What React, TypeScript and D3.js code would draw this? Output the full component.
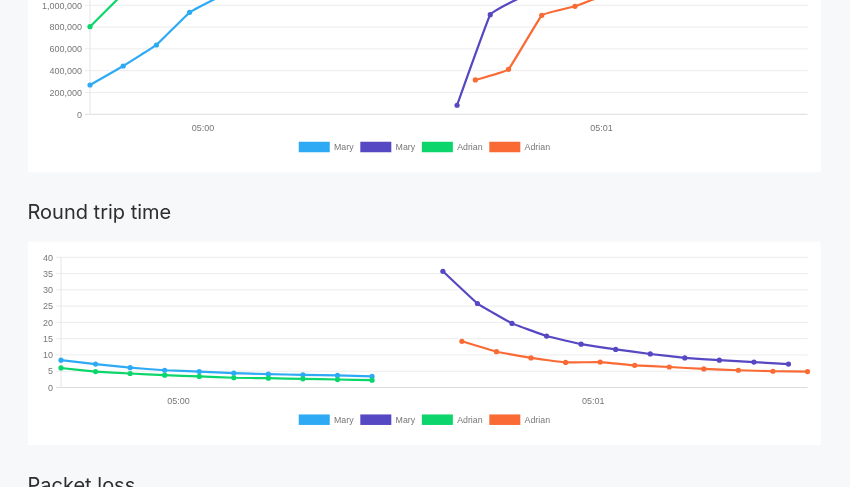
import React, { useEffect, useRef } from 'react';
import * as d3 from 'd3';

const W = 850;
const H = 487;

const parseTime = d3.timeParse('%H:%M:%S.%L');
const parseTick = d3.timeParse('%H:%M');

// sample times (shared by both charts)
const maryTimesA = ['04:59:43.000', '04:59:48.000', '04:59:53.000', '04:59:58.000', '05:00:03.000', '05:00:08.000', '05:00:13.000', '05:00:18.000', '05:00:23.000', '05:00:28.000'];
const adrianTimesA = ['04:59:43.000', '04:59:48.000', '04:59:53.000', '04:59:58.000', '05:00:03.000', '05:00:08.000', '05:00:13.000', '05:00:18.000', '05:00:23.000', '05:00:28.000'];
const maryTimesB = ['05:00:38.250', '05:00:43.250', '05:00:48.250', '05:00:53.250', '05:00:58.250', '05:01:03.250', '05:01:08.250', '05:01:13.250', '05:01:18.250', '05:01:23.250', '05:01:28.250'];
const adrianTimesB = ['05:00:41.000', '05:00:46.000', '05:00:51.000', '05:00:56.000', '05:01:01.000', '05:01:06.000', '05:01:11.000', '05:01:16.000', '05:01:21.000', '05:01:26.000', '05:01:31.000'];

const seriesNames = ['Mary', 'Mary', 'Adrian', 'Adrian'];
const seriesColors = ['#2eaaf5', '#5548c2', '#0cd66b', '#fa6a35'];

// top chart (only the lower part is in view)
const throughputMaryA = [269000, 443000, 636000, 936000, 1095000];
const throughputMaryB = [83000, 914000, 1084000];
const throughputAdrianA = [804000, 1108000];
const throughputAdrianB = [315000, 413000, 908000, 991000, 1106000];
const throughputTicks = [0, 200000, 400000, 600000, 800000, 1000000, 1200000, 1400000];

// round trip time
const rttMaryA = [8.4, 7.2, 6.1, 5.3, 4.9, 4.4, 4.1, 3.9, 3.7, 3.4];
const rttMaryB = [35.7, 25.8, 19.7, 15.8, 13.3, 11.7, 10.3, 9.1, 8.4, 7.8, 7.2];
const rttAdrianA = [6.0, 4.9, 4.3, 3.8, 3.4, 3.0, 2.85, 2.65, 2.45, 2.25];
const rttAdrianB = [14.2, 11.0, 9.1, 7.7, 7.8, 6.8, 6.3, 5.7, 5.3, 5.0, 4.9];
const rttTicks = [0, 5, 10, 15, 20, 25, 30, 35, 40];

const xTickLabels = ['05:00', '05:01'];
const headings = ['Round trip time', 'Packet loss'];

const FONT = '"Liberation Sans", Arial, sans-serif';

type Series = { times: string[]; values: number[]; color: string; name: string };

interface ChartOpts {
  left: number;
  right: number;
  y0: number;
  yTop: number;
  yTicks: number[];
  yFormat: (v: number) => string;
  xLabelY: number;
  legendY: number;
  series: Series[];
}

const allTimes = [...maryTimesA, ...adrianTimesA, ...maryTimesB, ...adrianTimesB].map(t => parseTime(t) as Date);
const timeDomain = d3.extent(allTimes) as [Date, Date];

function drawChart(root: d3.Selection<SVGGElement, unknown, null, undefined>, o: ChartOpts) {
  const x = d3.scaleTime().domain(timeDomain).range([o.left, o.right]);
  const y = d3.scaleLinear().domain([0, o.yTicks[o.yTicks.length - 1]]).range([o.y0, o.yTop]);

  // grid
  const grid = root.append('g');
  o.yTicks.forEach(t => {
    grid.append('line')
      .attr('x1', o.left - 5).attr('x2', o.right)
      .attr('y1', y(t)).attr('y2', y(t))
      .attr('stroke', t === 0 ? '#dcdcdc' : '#ececec')
      .attr('stroke-width', 1);
    grid.append('text')
      .attr('x', o.left - 8).attr('y', y(t) + 3.2)
      .attr('text-anchor', 'end')
      .attr('fill', '#777')
      .style('font-family', FONT).style('font-size', '9px')
      .text(o.yFormat(t));
  });
  grid.append('line')
    .attr('x1', o.left).attr('x2', o.left)
    .attr('y1', o.yTop).attr('y2', o.y0)
    .attr('stroke', '#e6e6e6');

  // x ticks
  xTickLabels.forEach(lbl => {
    const t = parseTick(lbl) as Date;
    const d = new Date(timeDomain[0]);
    d.setHours(t.getHours(), t.getMinutes(), 0, 0);
    root.append('text')
      .attr('x', x(d)).attr('y', o.xLabelY)
      .attr('text-anchor', 'middle')
      .attr('fill', '#777')
      .style('font-family', FONT).style('font-size', '9px')
      .text(lbl);
  });

  // lines, slight rounding at the joins
  const line = d3.line<[Date, number]>()
    .x(d => x(d[0]))
    .y(d => y(d[1]))
    .curve(d3.curveCardinal.tension(0.8));

  o.series.forEach(s => {
    const pts: [Date, number][] = s.values.map((v, i) => [parseTime(s.times[i]) as Date, v]);
    root.append('path')
      .datum(pts)
      .attr('d', line)
      .attr('fill', 'none')
      .attr('stroke', s.color)
      .attr('stroke-width', 2.2)
      .attr('stroke-linejoin', 'round');
    root.append('g').selectAll('circle')
      .data(pts)
      .join('circle')
      .attr('cx', d => x(d[0]))
      .attr('cy', d => y(d[1]))
      .attr('r', 2.6)
      .attr('fill', s.color);
  });

  // legend, centred on the card
  const legend = root.append('g');
  const boxW = 31, boxH = 10.5, gap = 4.3, pad = 6.7;
  let cx = 0;
  o.series.forEach(s => {
    legend.append('rect')
      .attr('x', cx).attr('y', o.legendY - boxH / 2)
      .attr('width', boxW).attr('height', boxH)
      .attr('fill', s.color);
    const txt = legend.append('text')
      .attr('x', cx + boxW + gap).attr('y', o.legendY + 3.1)
      .attr('fill', '#777')
      .style('font-family', FONT).style('font-size', '8.8px')
      .text(s.name);
    const tw = (txt.node() as SVGTextElement).getComputedTextLength();
    cx += boxW + gap + tw + pad;
  });
  const total = cx - pad;
  legend.attr('transform', `translate(${424.4 - total / 2},0)`);
}

const App: React.FC = () => {
  const svgRef = useRef<SVGSVGElement>(null);

  useEffect(() => {
    if (!svgRef.current) return;
    const svg = d3.select(svgRef.current);
    svg.selectAll('*').remove();

    svg.append('rect').attr('width', W).attr('height', H).attr('fill', '#f7f8fa');

    // cards
    svg.append('rect').attr('x', 28).attr('y', -300).attr('width', 792.7).attr('height', 472.3).attr('fill', '#fff');
    svg.append('rect').attr('x', 28).attr('y', 241.7).attr('width', 792.7).attr('height', 203.3).attr('fill', '#fff');

    // headings
    [219.3, 491.5].forEach((by, i) => {
      svg.append('text')
        .attr('x', 27.5).attr('y', by)
        .attr('fill', '#2e2e2e')
        .style('font-family', 'Inter, "Noto Sans", sans-serif')
        .style('font-size', '20px')
        .text(headings[i]);
    });

    const g1 = svg.append('g');
    drawChart(g1, {
      left: 90, right: 807.5, y0: 114.3, yTop: 114.3 - 1.4 * 109,
      yTicks: throughputTicks,
      yFormat: d3.format(','),
      xLabelY: 130.5, legendY: 147,
      series: [
        { times: maryTimesA, values: throughputMaryA, color: seriesColors[0], name: seriesNames[0] },
        { times: maryTimesB, values: throughputMaryB, color: seriesColors[1], name: seriesNames[1] },
        { times: adrianTimesA, values: throughputAdrianA, color: seriesColors[2], name: seriesNames[2] },
        { times: adrianTimesB, values: throughputAdrianB, color: seriesColors[3], name: seriesNames[3] },
      ],
    });

    const g2 = svg.append('g');
    drawChart(g2, {
      left: 61, right: 807.5, y0: 387.5, yTop: 257.3,
      yTicks: rttTicks,
      yFormat: d3.format('d'),
      xLabelY: 404, legendY: 419.7,
      series: [
        { times: maryTimesA, values: rttMaryA, color: seriesColors[0], name: seriesNames[0] },
        { times: maryTimesB, values: rttMaryB, color: seriesColors[1], name: seriesNames[1] },
        { times: adrianTimesA, values: rttAdrianA, color: seriesColors[2], name: seriesNames[2] },
        { times: adrianTimesB, values: rttAdrianB, color: seriesColors[3], name: seriesNames[3] },
      ],
    });
  }, []);

  return (
    <div style={{ position: 'fixed', left: 0, top: 0, width: W, height: H, overflow: 'hidden' }}>
      <svg ref={svgRef} width={W} height={H} style={{ display: 'block' }} />
    </div>
  );
};

export default App;
